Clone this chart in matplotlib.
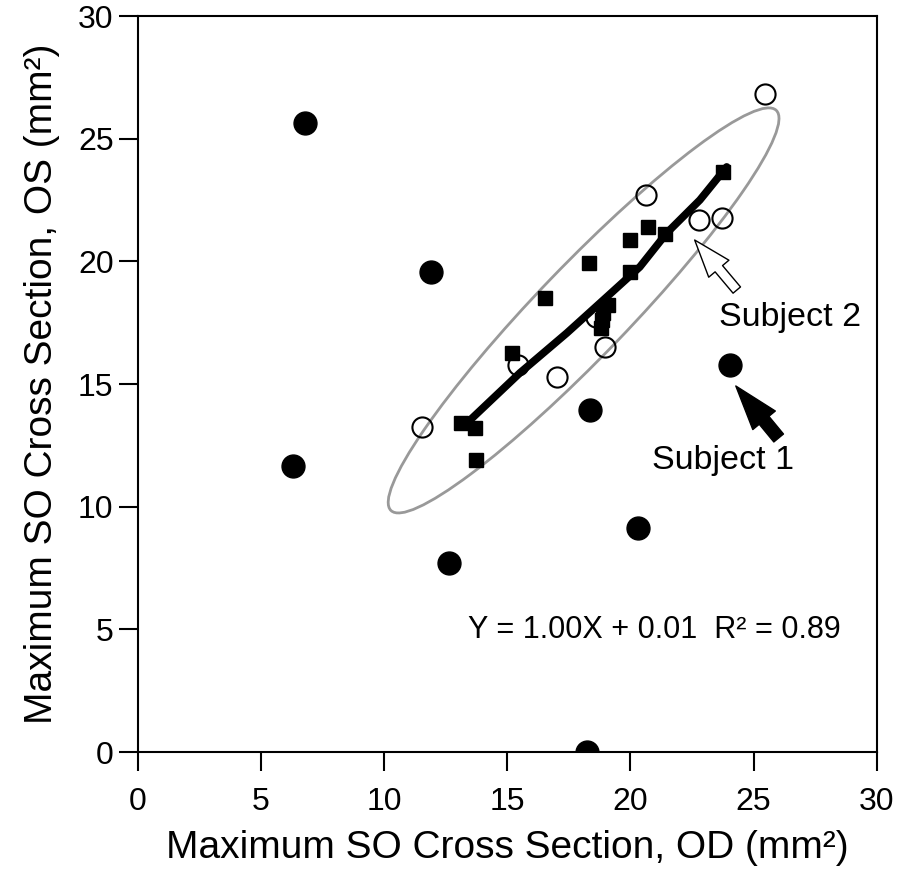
import matplotlib.pyplot as plt
from matplotlib.patches import Ellipse

plt.rcParams['font.family'] = ['Liberation Sans', 'DejaVu Sans']

# filled circles
filled_x = [6.78, 11.92, 6.29, 12.63, 18.35, 20.29, 24.04, 18.24]
filled_y = [25.64, 19.58, 11.66, 7.72, 13.94, 9.14, 15.78, 0.0]

# open circles
open_x = [25.46, 20.65, 22.79, 23.72, 18.60, 18.96, 15.44, 17.00, 11.52]
open_y = [26.83, 22.71, 21.69, 21.76, 17.72, 16.52, 15.78, 15.30, 13.26]

# filled squares
sq_x = [23.75, 20.70, 21.40, 19.97, 18.30, 19.97, 16.52, 19.08, 18.88, 18.84, 18.79, 15.18, 13.14, 13.68, 13.75]
sq_y = [23.65, 21.40, 21.10, 20.87, 19.93, 19.57, 18.50, 18.22, 17.90, 17.60, 17.28, 16.27, 13.41, 13.21, 11.90]

# smoothed trend line through the squares
fit_x = [13.28, 15.51, 17.42, 19.04, 20.38, 21.48, 22.82, 23.91]
fit_y = [13.33, 15.45, 17.08, 18.55, 19.77, 21.16, 22.50, 23.85]

fig = plt.figure(figsize=(9.01, 8.71), dpi=100)
ax = fig.add_axes([0.153, 0.1366, 0.820, 0.845])

# gray confidence ellipse
ell = Ellipse((18.1, 18.0), width=22.6, height=3.7, angle=46.2,
              facecolor='none', edgecolor='#999999', linewidth=2)
ax.add_patch(ell)

ax.plot(fit_x, fit_y, color='black', linewidth=5.5, solid_capstyle='round', zorder=3)
ax.plot(sq_x, sq_y, 's', color='black', markersize=9.5, zorder=4)
ax.plot(open_x, open_y, 'o', markerfacecolor='none', markeredgecolor='black',
        markeredgewidth=1.5, markersize=14.5, zorder=4)
ax.plot(filled_x, filled_y, 'o', color='black', markersize=16.5, zorder=4)

# arrows to subjects
ax.annotate('', xy=(22.61, 20.87), xytext=(24.32, 18.83),
            arrowprops=dict(width=7, headwidth=19, headlength=27,
                            facecolor='white', edgecolor='black', linewidth=1))
ax.annotate('', xy=(24.28, 14.92), xytext=(26.02, 12.80),
            arrowprops=dict(width=9, headwidth=21, headlength=32,
                            facecolor='black', edgecolor='black'))
ax.text(23.6, 17.73, 'Subject 2', fontsize=24.5, va='center', ha='left')
ax.text(20.87, 11.9, 'Subject 1', fontsize=24.5, va='center', ha='left')
ax.text(13.4, 4.97, 'Y = 1.00X + 0.01  R² = 0.89', fontsize=22, va='center', ha='left')

ax.set_xlim(0, 30)
ax.set_ylim(0, 30)
ax.set_xticks(range(0, 31, 5))
ax.set_yticks(range(0, 31, 5))
ax.tick_params(direction='out', length=13.5, width=1.5, labelsize=23)
ax.tick_params(axis='x', pad=12)
ax.tick_params(axis='y', pad=4)
for s in ax.spines.values():
    s.set_linewidth(1.5)

ax.set_xlabel('Maximum SO Cross Section, OD (mm²)', fontsize=28, labelpad=9)
ax.set_ylabel('Maximum SO Cross Section, OS (mm²)', fontsize=28, labelpad=13)

plt.savefig('out.png', dpi=100)
plt.close()
